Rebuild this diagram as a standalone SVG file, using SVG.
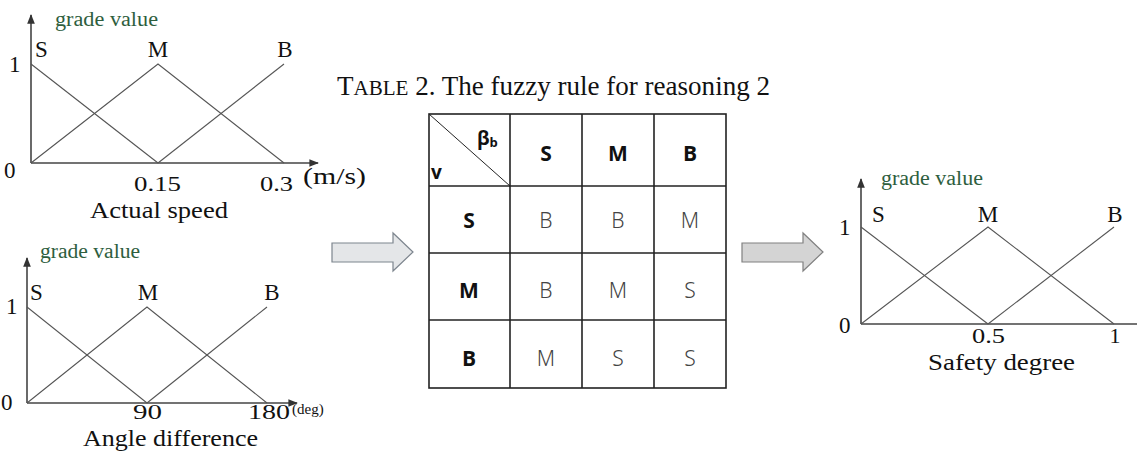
<svg xmlns="http://www.w3.org/2000/svg" width="1137" height="454" viewBox="0 0 1137 454">
<style>
.ax{stroke:#444;stroke-width:1.6;fill:none}
.ln{stroke:#555;stroke-width:1.1;fill:none}
.t{font-family:"Liberation Serif",serif;fill:#111}
.lab{font-size:23px}
.num{font-size:22px}
.gv{font-family:"Liberation Serif",serif;font-size:20px;fill:#2e5e3e}
.cap{font-size:24px}
.grid{stroke:#222;stroke-width:1.6;fill:none}
.hd{font-family:"Open Sans","DejaVu Sans",sans-serif;font-weight:bold;font-size:21px;fill:#111;text-anchor:middle}
.bd{font-family:"Noto Sans","DejaVu Sans",sans-serif;font-weight:300;font-size:21px;fill:#444;text-anchor:middle}
.arr1{fill:#e4e6e8;stroke:#7d858e;stroke-width:1.2}
.arr2{fill:#d4d4d4;stroke:#808080;stroke-width:1.2}
</style>
<defs>
<marker id="ah" viewBox="0 0 10 10" refX="9" refY="5" markerWidth="6" markerHeight="6" orient="auto">
<path d="M0,1 L10,5 L0,9 z" fill="#333"/>
</marker>
</defs>

<g id="chart-speed">
<line class="ax" x1="31" y1="163" x2="31" y2="15" marker-end="url(#ah)"/>
<line class="ax" x1="31" y1="163" x2="318" y2="163" marker-end="url(#ah)"/>
<polyline class="ln" points="31,64 158,163"/>
<polyline class="ln" points="31,163 158,64 284,163"/>
<polyline class="ln" points="158,163 284,64"/>
<text class="gv" x="55" y="26" textLength="103" lengthAdjust="spacingAndGlyphs">grade value</text>
<text class="t lab" x="35" y="57">S</text>
<text class="t lab" x="158" y="57" text-anchor="middle">M</text>
<text class="t lab" x="285" y="57" text-anchor="middle">B</text>
<text class="t lab" x="9" y="72">1</text>
<text class="t lab" x="4" y="178">0</text>
<text class="t num" x="134" y="191" textLength="47" lengthAdjust="spacingAndGlyphs">0.15</text>
<text class="t num" x="260" y="191" textLength="33" lengthAdjust="spacingAndGlyphs">0.3</text>
<text class="t lab" x="303" y="184" textLength="63" lengthAdjust="spacingAndGlyphs">(m/s)</text>
<text class="t cap" x="90" y="218" textLength="138" lengthAdjust="spacingAndGlyphs">Actual speed</text>
</g>

<g id="chart-angle">
<line class="ax" x1="27" y1="403" x2="27" y2="258" marker-end="url(#ah)"/>
<line class="ax" x1="27" y1="403" x2="297" y2="403" marker-end="url(#ah)"/>
<polyline class="ln" points="27,307 147,403"/>
<polyline class="ln" points="27,403 147,307 267,403"/>
<polyline class="ln" points="147,403 267,307"/>
<text class="gv" x="40" y="258" textLength="100" lengthAdjust="spacingAndGlyphs">grade value</text>
<text class="t lab" x="30" y="300">S</text>
<text class="t lab" x="148" y="300" text-anchor="middle">M</text>
<text class="t lab" x="272" y="300" text-anchor="middle">B</text>
<text class="t lab" x="6" y="314">1</text>
<text class="t lab" x="1" y="410">0</text>
<text class="t num" x="133" y="419" textLength="29" lengthAdjust="spacingAndGlyphs">90</text>
<text class="t num" x="248" y="419" textLength="42" lengthAdjust="spacingAndGlyphs">180</text>
<text class="t" x="292" y="414" font-size="15">(deg)</text>
<text class="t cap" x="83" y="446" textLength="175" lengthAdjust="spacingAndGlyphs">Angle difference</text>
</g>

<g id="title">
<text class="t" x="337" y="95" font-size="27" textLength="433" lengthAdjust="spacingAndGlyphs">T<tspan font-size="21">ABLE</tspan> 2. The fuzzy rule for reasoning 2</text>
</g>

<g id="table">
<rect class="grid" x="429" y="114" width="297" height="274"/>
<line class="grid" x1="510" y1="114" x2="510" y2="388"/>
<line class="grid" x1="582" y1="114" x2="582" y2="388"/>
<line class="grid" x1="654" y1="114" x2="654" y2="388"/>
<line class="grid" x1="429" y1="186" x2="726" y2="186"/>
<line class="grid" x1="429" y1="253" x2="726" y2="253"/>
<line class="grid" x1="429" y1="320" x2="726" y2="320"/>
<line x1="429" y1="114" x2="510" y2="186" stroke="#222" stroke-width="1"/>
<text x="477" y="145" font-family="'Open Sans','DejaVu Sans',sans-serif" font-weight="bold" font-size="19" fill="#111">β<tspan font-size="13" dy="2">b</tspan></text>
<text x="431" y="179" font-family="'Open Sans','DejaVu Sans',sans-serif" font-weight="bold" font-size="19" fill="#111">v</text>
<text class="hd" x="546" y="161">S</text>
<text class="hd" x="618" y="161">M</text>
<text class="hd" x="690" y="161">B</text>
<text class="hd" x="469" y="228">S</text>
<text class="hd" x="469" y="298">M</text>
<text class="hd" x="469" y="366">B</text>
<text class="bd" x="546" y="228">B</text>
<text class="bd" x="618" y="228">B</text>
<text class="bd" x="690" y="228">M</text>
<text class="bd" x="546" y="298">B</text>
<text class="bd" x="618" y="298">M</text>
<text class="bd" x="690" y="298">S</text>
<text class="bd" x="546" y="366">M</text>
<text class="bd" x="618" y="366">S</text>
<text class="bd" x="690" y="366">S</text>
</g>

<g id="connectors">
<polygon class="arr1" points="332,243 393,243 393,233 413,252 393,271 393,262 332,262"/>
<polygon class="arr2" points="742,243 803,243 803,233 823,252 803,271 803,262 742,262"/>
</g>

<g id="chart-safety">
<line class="ax" x1="861" y1="324" x2="861" y2="179" marker-end="url(#ah)"/>
<line class="ax" x1="861" y1="324" x2="1137" y2="324"/>
<polyline class="ln" points="861,227 988,324"/>
<polyline class="ln" points="861,324 988,227 1114,324"/>
<polyline class="ln" points="988,324 1114,227"/>
<text class="gv" x="881" y="185" textLength="102" lengthAdjust="spacingAndGlyphs">grade value</text>
<text class="t lab" x="872" y="222">S</text>
<text class="t lab" x="988" y="222" text-anchor="middle">M</text>
<text class="t lab" x="1115" y="222" text-anchor="middle">B</text>
<text class="t lab" x="839" y="235">1</text>
<text class="t lab" x="839" y="333">0</text>
<text class="t num" x="972" y="343" textLength="33" lengthAdjust="spacingAndGlyphs">0.5</text>
<text class="t num" x="1115" y="343" text-anchor="middle">1</text>
<text class="t cap" x="928" y="370" textLength="147" lengthAdjust="spacingAndGlyphs">Safety degree</text>
</g>
</svg>
